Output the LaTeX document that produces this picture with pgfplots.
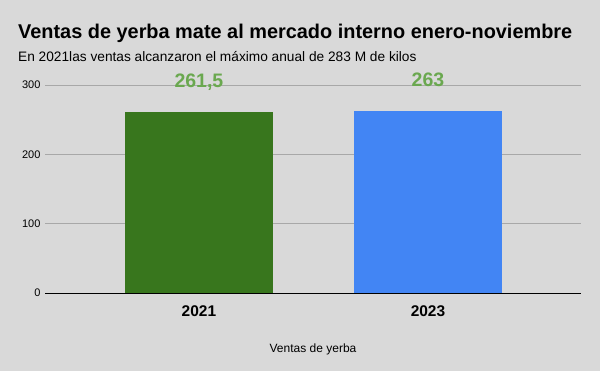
\documentclass[border=0pt]{standalone}
\usepackage{pgfplots}
\pgfplotsset{compat=1.18}
\usepackage{fontspec}
\setmainfont{Liberation Sans}
\definecolor{bgc}{HTML}{D9D9D9}
\definecolor{g1}{HTML}{38761D}
\definecolor{b1}{HTML}{4285F4}
\definecolor{lbl}{HTML}{6AA84F}
\definecolor{gridc}{HTML}{A8A8A8}
\begin{document}
\begin{tikzpicture}[x=1pt,y=1pt]
\fill[bgc] (0,0) rectangle (600,371);
\node[anchor=base west,font=\bfseries\fontsize{19.9}{22}\selectfont,inner sep=0] at (18,332) {Ventas de yerba mate al mercado interno enero-noviembre};
\node[anchor=base west,font=\fontsize{13.7}{16}\selectfont,inner sep=0] at (18,309) {En 2021las ventas alcanzaron el máximo anual de 283 M de kilos};
\begin{axis}[
  at={(45pt,78pt)}, anchor=south west,
  scale only axis, width=536pt, height=208pt,
  xmin=-0.672, xmax=1.668, ymin=0, ymax=300,
  axis line style={draw=none},
  ytick={0,100,200,300},
  ymajorgrids, grid style={gridc, line width=0.6pt},
  major tick length=0pt,
  xtick={0,1}, xticklabels={2021,2023},
  xticklabel style={font=\bfseries\fontsize{15.5}{17}\selectfont, yshift=-9pt},
  yticklabel style={font=\fontsize{11}{13}\selectfont, xshift=-1pt},
  /pgf/number format/assume math mode=true,
  xlabel={Ventas de yerba},
  xlabel style={font=\fontsize{12}{14}\selectfont, yshift=-20pt},
  ybar, bar width=148pt, bar shift=0pt,
  point meta=explicit symbolic,
  nodes near coords,
  every node near coord/.append style={font=\bfseries\fontsize{19.5}{21}\selectfont, text=lbl, anchor=base, yshift=24pt, inner sep=0pt},
]
\addplot[fill=g1, draw=none] coordinates {(0,261.5) [261,5]};
\addplot[fill=b1, draw=none] coordinates {(1,263) [263]};
\end{axis}
\draw[black, line width=0.8pt] (45,78) -- (581,78);
\end{tikzpicture}
\end{document}
